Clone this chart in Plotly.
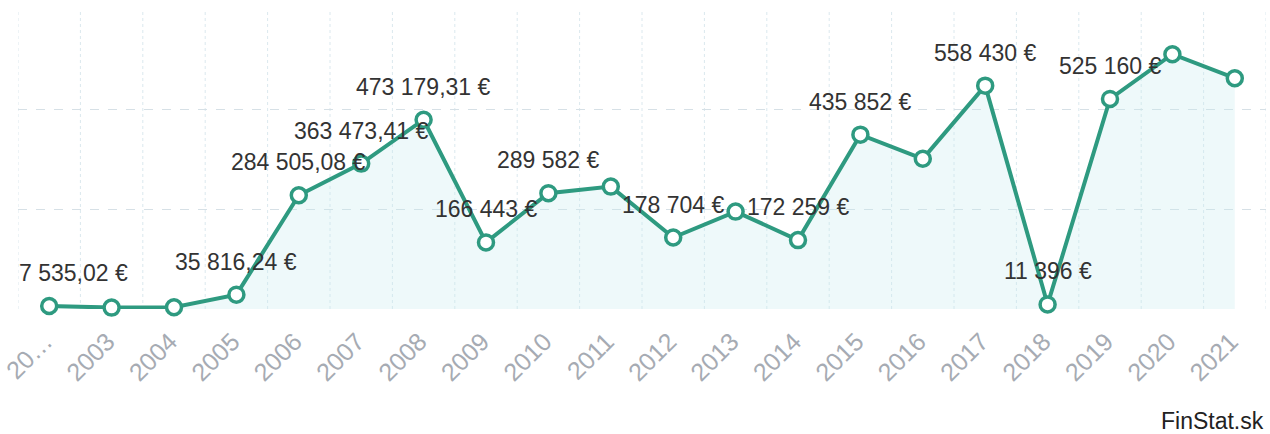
import plotly.graph_objects as go

years = ["2002", "2003", "2004", "2005", "2006", "2007", "2008", "2009", "2010", "2011",
         "2012", "2013", "2014", "2015", "2016", "2017", "2018", "2019", "2020", "2021"]
tick_labels = ["20…", "2003", "2004", "2005", "2006", "2007", "2008", "2009", "2010", "2011",
               "2012", "2013", "2014", "2015", "2016", "2017", "2018", "2019", "2020", "2021"]
values = [7535.02, 3500, 4500, 35816.24, 284505.08, 363473.41, 473179.31, 166443, 289582, 306000,
          178704, 243500, 172259, 435852, 375500, 558430, 11396, 525160, 637000, 577000]
labels = ["7 535,02 €", "", "", "35 816,24 €", "284 505,08 €", "363 473,41 €", "473 179,31 €",
          "166 443 €", "289 582 €", "", "178 704 €", "", "172 259 €", "435 852 €", "",
          "558 430 €", "11 396 €", "525 160 €", "", ""]

line_color = "#2e9a80"

fig = go.Figure()
fig.add_trace(go.Scatter(
    x=years, y=values, mode="lines+markers",
    line=dict(color=line_color, width=4),
    marker=dict(size=15, color="white", line=dict(color=line_color, width=3.5)),
    fill="tozeroy", fillcolor="rgba(200,235,238,0.3)",
    cliponaxis=False, hoverinfo="skip",
))

for i, (v, t) in enumerate(zip(values, labels)):
    if not t:
        continue
    fig.add_annotation(
        x=i, y=v, xref="x", yref="y", text=t, showarrow=False,
        xanchor="center", yanchor="bottom",
        yshift=18, xshift=24 if i == 0 else 0,
        font=dict(family="Liberation Sans, Arial", size=23, color="#333333"),
    )

fig.add_annotation(
    xref="paper", yref="paper", x=1.0, y=-0.422, xanchor="right", yanchor="bottom",
    text="FinStat.sk", showarrow=False,
    font=dict(family="Liberation Sans, Arial", size=23, color="#222222"),
)

fig.update_layout(
    width=1270, height=434,
    margin=dict(l=18, r=4, t=9, b=125),
    paper_bgcolor="white", plot_bgcolor="white",
    showlegend=False,
    font=dict(family="Liberation Sans, Arial"),
)
fig.update_xaxes(
    type="category", tickmode="array", tickvals=years, ticktext=tick_labels,
    tickangle=-45, tickfont=dict(size=25, color="#a6abb3"),
    ticklabelstandoff=12, ticklabelshift=-4,
    showgrid=False, ticks="", showline=False, zeroline=False, automargin=False,
    range=[-0.5, len(years) - 0.5],
)
# vertical boundary lines between categories
for k in range(len(years) + 1):
    fig.add_shape(type="line", xref="x", yref="paper", x0=k - 0.5, x1=k - 0.5, y0=0, y1=1,
                  line=dict(color="#dbe8ee", width=1, dash="dot"), layer="below")
fig.update_yaxes(
    range=[0, 750000], tickvals=[0, 250000, 500000, 750000], showticklabels=False,
    showgrid=True, gridcolor="#d6e0e6", griddash="dash", gridwidth=1,
    zeroline=False, showline=False, automargin=False,
)

fig.write_html("out.html", config={"displayModeBar": False},
               post_script="document.body.style.margin='0';")
